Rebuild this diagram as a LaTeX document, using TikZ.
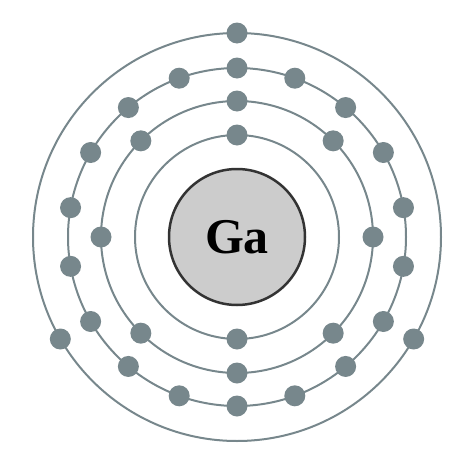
\documentclass[tikz,border=0pt]{standalone}
\usepackage{fontspec}
\setmainfont{Liberation Serif}
\definecolor{shellc}{HTML}{77878C}
\definecolor{nucfill}{HTML}{CCCCCC}
\definecolor{nucline}{HTML}{333333}
\tikzset{
  shell/.style={draw=shellc, line width=2pt},
  electron/.style={circle, fill=shellc, minimum size=21pt, inner sep=0pt},
  nucleus/.style={circle, draw=nucline, fill=nucfill, line width=2.5pt, minimum size=136pt, inner sep=0pt, font=\fontsize{50}{50}\selectfont\bfseries}
}
\begin{document}
\begin{tikzpicture}[x=1pt,y=-1pt]
\useasboundingbox (0,0) rectangle (474,474);
\coordinate (c) at (237,237);
\foreach \r in {102,136,169,204} \draw[shell] (c) circle[radius=\r];
\node[nucleus] (nuc) at (c) {Ga};
\foreach \a [count=\i] in {90,270} \node[electron] (e1-\i) at ([shift={(\a:102pt)}]c) {};
\foreach \a [count=\i] in {0,45,...,315} \node[electron] (e2-\i) at ([shift={(\a:136pt)}]c) {};
\foreach \a [count=\i] in {10,30,...,350} \node[electron] (e3-\i) at ([shift={(\a:169pt)}]c) {};
\foreach \a [count=\i] in {90,210,330} \node[electron] (e4-\i) at ([shift={(\a:204pt)}]c) {};
\end{tikzpicture}
\end{document}
